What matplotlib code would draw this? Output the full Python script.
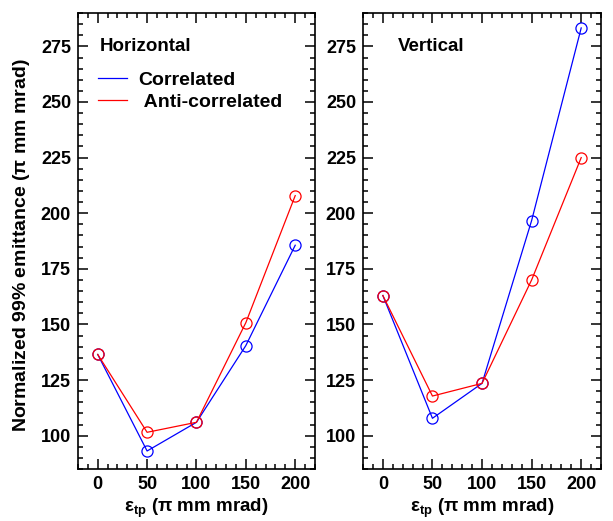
import matplotlib.pyplot as plt
from matplotlib.lines import Line2D
from matplotlib.ticker import MultipleLocator

plt.rcParams['font.family'] = ['Liberation Sans', 'DejaVu Sans']
plt.rcParams['font.weight'] = 'bold'
plt.rcParams['mathtext.fontset'] = 'custom'
plt.rcParams['mathtext.rm'] = 'Liberation Sans'
plt.rcParams['mathtext.bf'] = 'Liberation Sans:bold'
plt.rcParams['mathtext.it'] = 'Liberation Sans:italic'

# emittance of the tilted plane (pi mm mrad)
eps_tp = [0, 50, 100, 150, 200]

# Horizontal panel
horiz_corr = [136.5, 93.1, 106.0, 140.5, 185.6]
horiz_anti = [136.5, 101.5, 106.0, 150.8, 207.9]

# Vertical panel
vert_corr = [163.0, 107.8, 123.5, 196.7, 283.3]
vert_anti = [163.0, 117.8, 123.5, 170.0, 225.0]

panels = [('Horizontal', horiz_corr, horiz_anti, 0.093),
          ('Vertical', vert_corr, vert_anti, 0.146)]

fig = plt.figure(figsize=(6.13, 5.21), dpi=100)
ax_left = fig.add_axes([0.1272, 0.0998, 0.3866, 0.8752])
ax_right = fig.add_axes([0.5922, 0.0998, 0.3883, 0.8752])

for ax, (name, corr, anti, tx) in zip([ax_left, ax_right], panels):
    ax.plot(eps_tp, corr, color='#0000ff', lw=0.9, marker='o', ms=8,
            mfc='none', mec='#0000ff', mew=0.9)
    ax.plot(eps_tp, anti, color='#ff0000', lw=0.9, marker='o', ms=8,
            mfc='none', mec='#ff0000', mew=0.9)
    ax.set_xlim(-20, 220)
    ax.set_ylim(85, 290)
    ax.xaxis.set_major_locator(MultipleLocator(50))
    ax.xaxis.set_minor_locator(MultipleLocator(10))
    ax.yaxis.set_major_locator(MultipleLocator(25))
    ax.yaxis.set_minor_locator(MultipleLocator(5))
    ax.tick_params(which='both', direction='in', top=True, right=True,
                   labelsize=13, width=1.1)
    ax.tick_params(which='major', length=7, pad=5)
    ax.tick_params(which='minor', length=3.6)
    for s in ax.spines.values():
        s.set_linewidth(1.2)
    ax.set_xlabel(r'$\mathrm{ε}_{\mathbf{tp}}$ ($\mathrm{π}$ mm mrad)',
                  fontsize=13.5, fontweight='bold', labelpad=3)
    ax.text(tx, 0.927, name, transform=ax.transAxes, fontsize=13.5,
            fontweight='bold', va='center', ha='left')

ax_left.set_ylabel(r'Normalized 99% emittance ($\mathrm{π}$ mm mrad)',
                   fontsize=14, fontweight='bold')
ax_left.yaxis.set_label_coords(-0.194, 0.49)

handles = [Line2D([], [], color='#0000ff', lw=0.9),
           Line2D([], [], color='#ff0000', lw=0.9)]
ax_left.legend(handles, ['Correlated', ' Anti-correlated'], loc='upper left',
               bbox_to_anchor=(0.084, 0.872), frameon=False, borderpad=0,
               borderaxespad=0, handlelength=1.5, handletextpad=0.6,
               labelspacing=0.22, prop={'size': 14, 'weight': 'bold'})

fig.savefig('out.png', dpi=100)
